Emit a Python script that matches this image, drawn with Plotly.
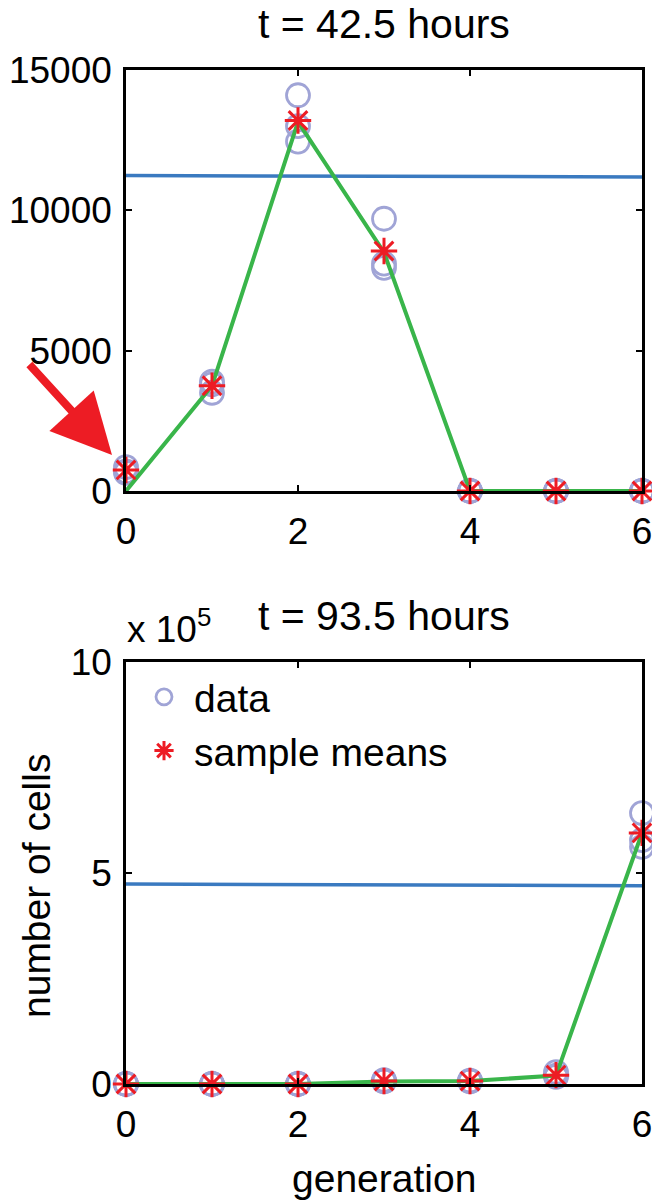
import plotly.graph_objects as go

W, H = 652, 1203
FONT = "Liberation Sans, Arial, Helvetica, sans-serif"

generations = [0, 1, 2, 3, 4, 5, 6]

# ---- top panel: t = 42.5 hours ----
top_data_rep1 = [850, 3900, 14100, 9700, 0, 0, 0]
top_data_rep2 = [700, 3800, 13000, 8100, 0, 0, 0]
top_data_rep3 = [650, 3500, 12450, 7950, 0, 0, 0]
top_means = [750, 3750, 13200, 8550, 0, 0, 0]
top_model = [0, 3750, 13150, 8500, 0, 0, 0]
top_flat_x = [0, 6]
top_flat = [11240, 11190]

# ---- bottom panel: t = 93.5 hours ----
bot_data_rep1 = [0, 0, 0, 9000, 8000, 28000, 642000]
bot_data_rep2 = [0, 0, 0, 6000, 7000, 20000, 578000]
bot_data_rep3 = [0, 0, 0, 7000, 6000, 17000, 562000]
bot_means = [0, 0, 0, 7000, 7000, 21000, 595000]
bot_model = [0, 0, 0, 6000, 7000, 20000, 595000]
bot_flat_x = [0, 6]
bot_flat = [474000, 470000]

top_yticks = [0, 5000, 10000, 15000]
top_yticktext = ["0", "5000", "10000", "15000"]
bot_yticks = [0, 500000, 1000000]
bot_yticktext = ["0", "5", "10"]
xticks = [0, 2, 4, 6]

CIRCLE = "rgb(160,164,214)"
STAR = "rgb(237,28,36)"
GREEN = "rgb(57,181,74)"
BLUE = "rgb(58,122,192)"

fig = go.Figure()


def add_panel(xa, ya, reps, means, model, fx, fy, legend):
    xs, ys = [], []
    for r in reps:
        xs += generations
        ys += r
    fig.add_trace(go.Scatter(
        x=xs, y=ys, xaxis=xa, yaxis=ya, mode="markers", name="data",
        showlegend=legend, cliponaxis=False,
        marker=dict(symbol="circle-open", size=23, color=CIRCLE,
                    line=dict(width=2.8, color=CIRCLE))))
    fig.add_trace(go.Scatter(
        x=fx, y=fy, xaxis=xa, yaxis=ya, mode="lines", showlegend=False,
        line=dict(color=BLUE, width=3.5)))
    fig.add_trace(go.Scatter(
        x=generations, y=model, xaxis=xa, yaxis=ya, mode="lines",
        showlegend=False, cliponaxis=False,
        line=dict(color=GREEN, width=4)))
    fig.add_trace(go.Scatter(
        x=generations, y=means, xaxis=xa, yaxis=ya, mode="markers",
        name="sample means", showlegend=legend, cliponaxis=False,
        marker=dict(symbol="asterisk-open", size=22, color=STAR,
                    line=dict(width=3, color=STAR))))


add_panel("x", "y", [top_data_rep1, top_data_rep2, top_data_rep3],
          top_means, top_model, top_flat_x, top_flat, False)
add_panel("x2", "y2", [bot_data_rep1, bot_data_rep2, bot_data_rep3],
          bot_means, bot_model, bot_flat_x, bot_flat, True)

xd = [126 / W, 642 / W]
axis_common = dict(
    showline=True, linecolor="black", linewidth=2.5, mirror="ticks",
    ticks="inside", ticklen=6, tickwidth=2, tickcolor="black",
    showgrid=False, zeroline=False, automargin=False,
    tickfont=dict(family=FONT, size=37, color="black"),
    ticklabeloverflow="allow",
)

fig.update_layout(
    width=W, height=H,
    margin=dict(l=0, r=0, t=0, b=0, autoexpand=False),
    paper_bgcolor="white", plot_bgcolor="white",
    font=dict(family=FONT, color="black"),
    xaxis=dict(domain=xd, range=[0, 6], tickvals=xticks, anchor="y",
               ticklabelstandoff=6, **axis_common),
    yaxis=dict(domain=[1 - 491 / H, 1 - 70 / H], range=[0, 15000],
               tickvals=top_yticks, ticktext=top_yticktext, anchor="x",
               ticklabelstandoff=4, **axis_common),
    xaxis2=dict(domain=xd, range=[0, 6], tickvals=xticks, anchor="y2",
                ticklabelstandoff=6, **axis_common),
    yaxis2=dict(domain=[1 - 1084 / H, 1 - 662 / H], range=[0, 1000000],
                tickvals=bot_yticks, ticktext=bot_yticktext, anchor="x2",
                ticklabelstandoff=4, **axis_common),
    showlegend=True,
    legend=dict(x=134 / W, y=1 - 665 / H, xanchor="left", yanchor="top",
                bgcolor="rgba(0,0,0,0)", borderwidth=0,
                font=dict(family=FONT, size=39, color="black"),
                itemwidth=50, tracegroupgap=0),
)


def label(text, px, py, size, angle=0, xanchor="center"):
    return dict(text=text, x=px / W, y=1 - py / H, xref="paper",
                yref="paper", xanchor=xanchor, yanchor="middle",
                showarrow=False, textangle=angle,
                font=dict(size=size, family=FONT, color="black"))


annotations = [
    label("t = 42.5 hours", 384, 24, 41),
    label("t = 93.5 hours", 384, 616, 41),
    label("x 10<sup>5</sup>", 125, 626, 37, xanchor="left"),
    label("generation", 384, 1178, 39),
    label("number of cells", 36, 886, 39, angle=-90),
    dict(text="", x=112 / W, y=1 - 455 / H, xref="paper", yref="paper",
         showarrow=True, ax=-84, ay=-92, arrowhead=2, arrowsize=1.5,
         arrowwidth=8, arrowcolor=STAR, standoff=0),
]
fig.update_layout(annotations=annotations)

fig.write_html("out.html")
